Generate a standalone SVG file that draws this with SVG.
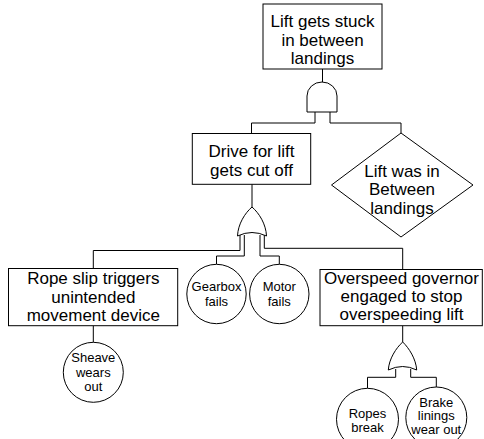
<svg xmlns="http://www.w3.org/2000/svg" width="484" height="439" viewBox="0 0 484 439">
<style>
.s{fill:#fff;stroke:#000;stroke-width:1}
.c{fill:none;stroke:#000;stroke-width:1}
.t{font-family:"Liberation Sans",Arial,sans-serif;font-size:17px;fill:#000;text-anchor:middle}
.e{font-family:"Liberation Sans",Arial,sans-serif;font-size:13px;fill:#000;text-anchor:middle}
</style>
<rect width="484" height="439" fill="#fff"/>
<g id="connectors">
<path class="c" d="M322.5,69V82"/>
<path class="c" d="M315,112V123H251.5V133.5"/>
<path class="c" d="M330,112V123H401V133"/>
<path class="c" d="M252,184V207"/>
<path class="c" d="M240,235V250.5H93.3V268.5"/>
<path class="c" d="M244.3,235V256H216.5V264"/>
<path class="c" d="M260,235V256H279.3V264"/>
<path class="c" d="M264.3,235V248.3H402.7V269.5"/>
<path class="c" d="M93.3,325.7V342.3"/>
<path class="c" d="M402.7,325.7V342"/>
<path class="c" d="M395.7,369V377.3H367.5V388.3"/>
<path class="c" d="M410.7,369V377.3H436.3V387"/>
</g>
<g id="top-event">
<rect class="s" x="263" y="4" width="119" height="65"/>
<text class="t" x="322.5" y="27">Lift gets stuck</text>
<text class="t" x="322.5" y="45.5">in between</text>
<text class="t" x="322.5" y="64">landings</text>
</g>
<g id="and-gate">
<path class="s" d="M307,112V96A15,14 0 0 1 337,96V112Z"/>
</g>
<g id="drive-cut-off">
<rect class="s" x="192.3" y="133.5" width="118.4" height="50.8"/>
<text class="t" x="251.5" y="157.3">Drive for lift</text>
<text class="t" x="251.5" y="175.5">gets cut off</text>
</g>
<g id="lift-between-landings">
<path class="s" d="M401,133L473,185L401,237L331.5,185Z"/>
<text class="t" x="402" y="176.5">Lift was in</text>
<text class="t" x="402" y="195">Between</text>
<text class="t" x="402" y="213.5">landings</text>
</g>
<g id="or-gate-drive">
<path class="s" d="M252,207C245,213 238,224 237.5,236Q252,229 266.5,236C266,224 259,213 252,207Z"/>
</g>
<g id="rope-slip">
<rect class="s" x="8.5" y="268.5" width="169.2" height="57.2"/>
<text class="t" x="93.3" y="284">Rope slip triggers</text>
<text class="t" x="93.3" y="302.5">unintended</text>
<text class="t" x="93.3" y="321">movement device</text>
</g>
<g id="gearbox-fails">
<circle class="s" cx="216.5" cy="294" r="29.7"/>
<text class="e" x="216.5" y="291">Gearbox</text>
<text class="e" x="216.5" y="305.5">fails</text>
</g>
<g id="motor-fails">
<circle class="s" cx="279.3" cy="294" r="29.7"/>
<text class="e" x="279.3" y="291">Motor</text>
<text class="e" x="279.3" y="305.5">fails</text>
</g>
<g id="overspeed-governor">
<rect class="s" x="320" y="269.5" width="162.3" height="56.2"/>
<text class="t" x="401.5" y="283.5">Overspeed governor</text>
<text class="t" x="401.5" y="302">engaged to stop</text>
<text class="t" x="401.5" y="320">overspeeding lift</text>
</g>
<g id="sheave-wears-out">
<circle class="s" cx="93.3" cy="372.3" r="30"/>
<text class="e" x="93.3" y="361.5">Sheave</text>
<text class="e" x="93.3" y="376.5">wears</text>
<text class="e" x="93.3" y="391">out</text>
</g>
<g id="or-gate-overspeed">
<path class="s" d="M402.7,342C396,348 389,359 388.3,370Q402.7,363 416.7,370C416,359 409,348 402.7,342Z"/>
</g>
<g id="ropes-break">
<circle class="s" cx="367.5" cy="419.3" r="31"/>
<text class="e" x="367.5" y="418.3">Ropes</text>
<text class="e" x="367.5" y="432">break</text>
</g>
<g id="brake-linings-wear-out">
<circle class="s" cx="436.3" cy="417.5" r="30.5"/>
<text class="e" x="436.3" y="406.5">Brake</text>
<text class="e" x="436.3" y="420">linings</text>
<text class="e" x="436.3" y="433.5">wear out</text>
</g>
</svg>
